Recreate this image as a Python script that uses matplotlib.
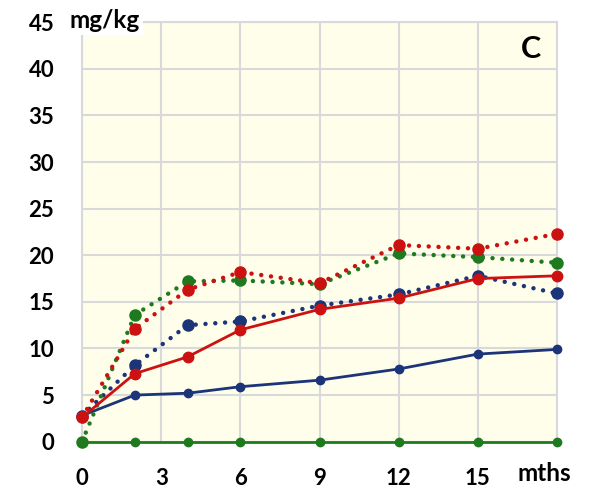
import matplotlib.pyplot as plt

months = [0, 2, 4, 6, 9, 12, 15, 18]

blue_solid = [2.8, 5.0, 5.2, 5.9, 6.6, 7.8, 9.4, 9.9]
red_solid = [2.6, 7.3, 9.1, 12.0, 14.2, 15.4, 17.5, 17.8]
green_solid = [0, 0, 0, 0, 0, 0, 0, 0]
blue_dotted = [2.8, 8.2, 12.5, 12.9, 14.6, 15.8, 17.8, 15.9]
red_dotted = [2.6, 12.1, 16.3, 18.2, 17.0, 21.1, 20.7, 22.3]
green_dotted = [0, 13.6, 17.2, 17.3, 16.9, 20.2, 19.8, 19.2]

x_ticks = [0, 3, 6, 9, 12, 15]
y_ticks = [0, 5, 10, 15, 20, 25, 30, 35, 40, 45]

navy = '#1c3478'
red = '#cc1111'
green = '#1f7a1f'
dots = (0, (0.01, 2.2))

plt.rcParams['font.family'] = ['Lato', 'DejaVu Sans']

fig = plt.figure(figsize=(5.96, 4.95), dpi=100)
ax = fig.add_axes([0.1376, 0.1077, 0.797, 0.8473])
ax.set_facecolor('#fefeeb')

ax.plot(months, green_solid, color=green, lw=2, marker='o', ms=6, clip_on=False, zorder=3)
ax.plot(months, blue_solid, color=navy, lw=2, marker='o', ms=6, clip_on=False, zorder=3)
ax.plot(months, blue_dotted, color=navy, lw=3.2, ls=dots, dash_capstyle='round',
        marker='o', ms=8, clip_on=False, zorder=3)
ax.plot(months, green_dotted, color=green, lw=3.2, ls=dots, dash_capstyle='round',
        marker='o', ms=8, clip_on=False, zorder=3)
ax.plot(months, red_dotted, color=red, lw=3.2, ls=dots, dash_capstyle='round',
        marker='o', ms=8, clip_on=False, zorder=3)
ax.plot(months, red_solid, color=red, lw=2, marker='o', ms=7.5, clip_on=False, zorder=4)

ax.set_xlim(0, 18)
ax.set_ylim(0, 45)
ax.set_xticks(x_ticks)
ax.set_yticks(y_ticks)
ax.tick_params(length=0, labelsize=16)
for lbl in ax.get_xticklabels() + ax.get_yticklabels():
    lbl.set_fontweight('bold')
ax.tick_params(axis='x', pad=19)
ax.tick_params(axis='y', pad=20)

ax.grid(True, color='#d9d9d9', lw=1.5, zorder=0)
ax.set_axisbelow(True)
for s in ax.spines.values():
    s.set_color('#d9d9d9')
    s.set_linewidth(1.5)

fig.text(0.1174, 0.958, 'mg/kg', fontsize=17.5, fontweight='bold', ha='left', va='center',
         bbox=dict(facecolor='white', edgecolor='none', pad=2))
fig.text(0.869, 0.044, 'mths', fontsize=17.5, fontweight='bold', ha='left', va='center')
ax.text(0.945, 0.937, 'C', transform=ax.transAxes, fontsize=22, fontweight='bold',
        ha='center', va='center')

fig.savefig('out.png', dpi=100)
